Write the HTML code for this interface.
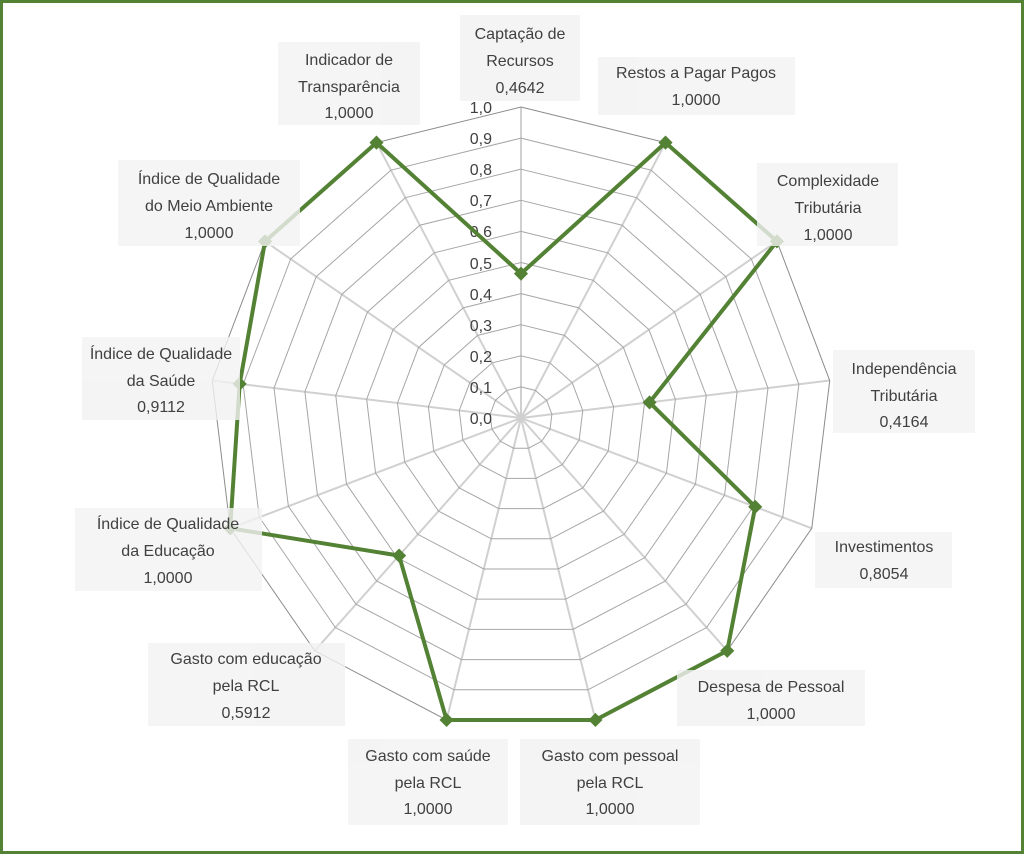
<!DOCTYPE html>
<html><head><meta charset="utf-8">
<style>
html,body{margin:0;padding:0;background:#fff;}
svg{display:block;}
text{font-family:"Liberation Sans",sans-serif;font-size:16px;fill:#404040;}
</style></head>
<body>
<svg id="s" width="1024" height="854" viewBox="0 0 1024 854" xmlns="http://www.w3.org/2000/svg">
<rect x="1.5" y="1.5" width="1021" height="851" fill="#fff" stroke="#548235" stroke-width="3"/>
<g id="grid"></g>
<g id="axisl" text-anchor="end">
<text x="492" y="424">0,0</text>
<text x="492" y="393">0,1</text>
<text x="492" y="362">0,2</text>
<text x="492" y="331">0,3</text>
<text x="492" y="300">0,4</text>
<text x="492" y="269">0,5</text>
<text x="492" y="237">0,6</text>
<text x="492" y="206">0,7</text>
<text x="492" y="175">0,8</text>
<text x="492" y="144">0,9</text>
<text x="492" y="113">1,0</text>
</g>
<g id="data"></g>
<g fill="#f2f2f2" opacity="0.8">
<rect x="460" y="15" width="120" height="86"/>
<rect x="598" y="57" width="197" height="58"/>
<rect x="757" y="163" width="141" height="83"/>
<rect x="833" y="350" width="142" height="83"/>
<rect x="815" y="532" width="137" height="56"/>
<rect x="677" y="670" width="188" height="56"/>
<rect x="520" y="739" width="180" height="86"/>
<rect x="348" y="739" width="160" height="86"/>
<rect x="148" y="643" width="197" height="83"/>
<rect x="75" y="508" width="187" height="83"/>
<rect x="82" y="337" width="158" height="83"/>
<rect x="118" y="160" width="182" height="86"/>
<rect x="278" y="42" width="142" height="83"/>
</g>
<g text-anchor="middle">
<text x="520" y="39">Captação de</text><text x="520" y="66">Recursos</text><text x="520" y="93">0,4642</text>
<text x="696" y="78">Restos a Pagar Pagos</text><text x="696" y="105">1,0000</text>
<text x="828" y="186">Complexidade</text><text x="828" y="213">Tributária</text><text x="828" y="240">1,0000</text>
<text x="904" y="374">Independência</text><text x="904" y="401">Tributária</text><text x="904" y="427">0,4164</text>
<text x="884" y="552">Investimentos</text><text x="884" y="579">0,8054</text>
<text x="771" y="692">Despesa de Pessoal</text><text x="771" y="719">1,0000</text>
<text x="610" y="761">Gasto com pessoal</text><text x="610" y="788">pela RCL</text><text x="610" y="814">1,0000</text>
<text x="428" y="761">Gasto com saúde</text><text x="428" y="788">pela RCL</text><text x="428" y="814">1,0000</text>
<text x="246" y="664">Gasto com educação</text><text x="246" y="691">pela RCL</text><text x="246" y="718">0,5912</text>
<text x="168" y="529">Índice de Qualidade</text><text x="168" y="556">da Educação</text><text x="168" y="583">1,0000</text>
<text x="161" y="359">Índice de Qualidade</text><text x="161" y="386">da Saúde</text><text x="161" y="412">0,9112</text>
<text x="209" y="184">Índice de Qualidade</text><text x="209" y="211">do Meio Ambiente</text><text x="209" y="238">1,0000</text>
<text x="349" y="65">Indicador de</text><text x="349" y="92">Transparência</text><text x="349" y="118">1,0000</text>
</g>
</svg>
<script>
(function(){
var cx=521,cy=418,R=311,n=13;
var vals=[0.4642,1,1,0.4164,0.8054,1,1,1,0.5912,1,0.9112,1,1];
function pt(i,r){var a=2*Math.PI*i/n;return [cx+r*Math.sin(a),cy-r*Math.cos(a)];}
var g=document.getElementById("grid"),h="";
for(var i=0;i<n;i++){var p=pt(i,R);h+='<line x1="'+cx+'" y1="'+cy+'" x2="'+p[0]+'" y2="'+p[1]+'" stroke="#d0d0d0" stroke-width="2"/>';}
for(var k=1;k<=10;k++){var ps=[];for(var i=0;i<n;i++){ps.push(pt(i,R*k/10).join(","));}
h+='<polygon points="'+ps.join(" ")+'" fill="none" stroke="'+(k==10?'#8c8c8c':'#a6a6a6')+'" stroke-width="1"/>';}
g.innerHTML=h;
var d=document.getElementById("data"),ps=[],m="";
for(var i=0;i<n;i++){var p=pt(i,R*vals[i]);ps.push(p.join(","));
m+='<rect x="'+(p[0]-5)+'" y="'+(p[1]-5)+'" width="10" height="10" fill="#548235" transform="rotate(45 '+p[0]+' '+p[1]+')"/>';}
d.innerHTML='<polygon points="'+ps.join(" ")+'" fill="none" stroke="#548235" stroke-width="4" stroke-linejoin="round"/>'+m;
})();
</script>
</body></html>
